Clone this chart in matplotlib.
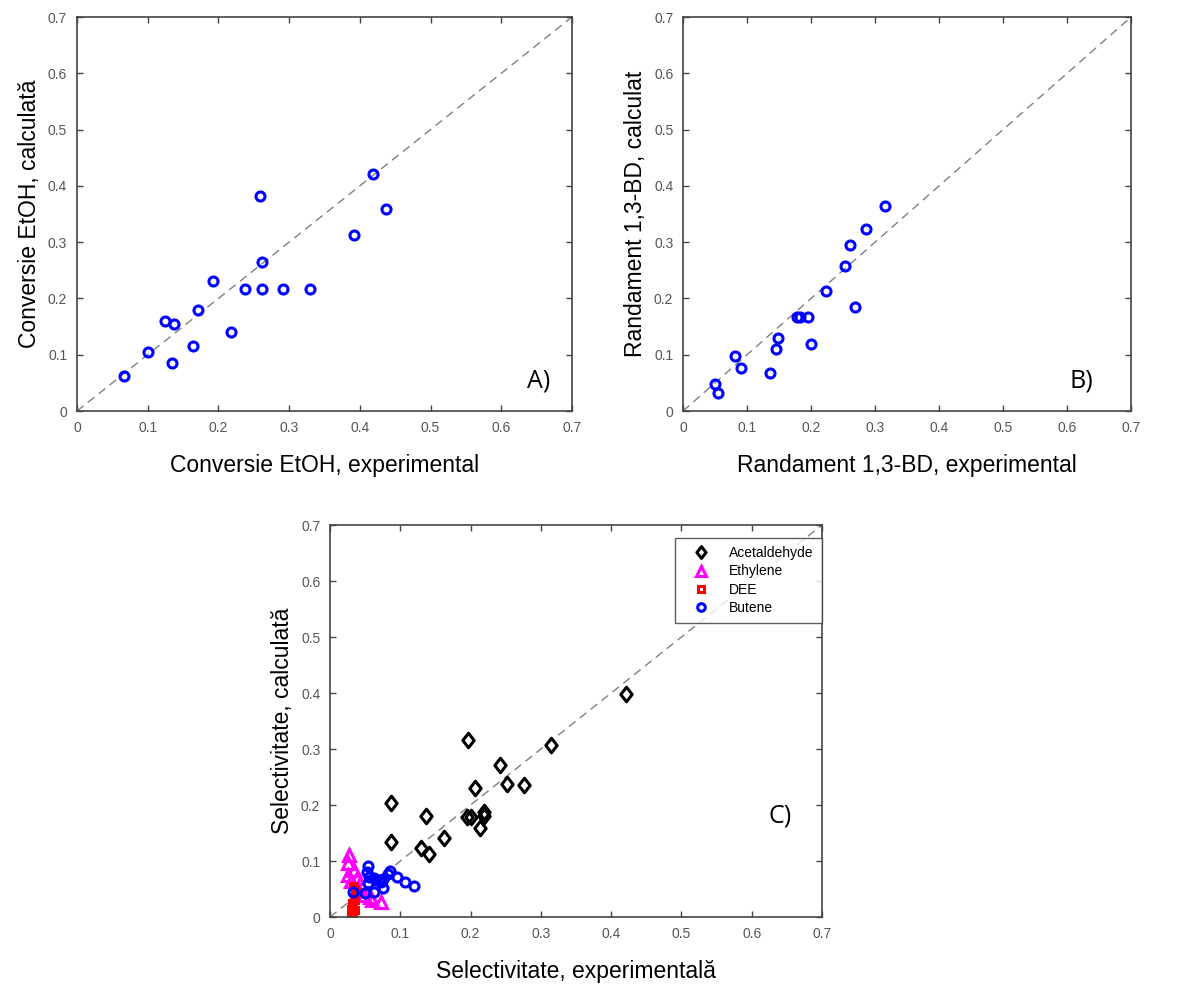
import matplotlib
matplotlib.use("Agg")
import matplotlib.pyplot as plt
from matplotlib.lines import Line2D
from matplotlib.path import Path

plt.rcParams['font.family'] = ['Liberation Sans', 'DejaVu Sans']

# A) ethanol conversion
conv_exp = [0.066, 0.100, 0.124, 0.137, 0.135, 0.164, 0.171, 0.192, 0.218, 0.237,
            0.259, 0.262, 0.262, 0.291, 0.330, 0.392, 0.419, 0.437]
conv_calc = [0.063, 0.105, 0.160, 0.154, 0.086, 0.115, 0.179, 0.231, 0.140, 0.216,
             0.382, 0.264, 0.216, 0.216, 0.216, 0.312, 0.422, 0.359]

# B) 1,3-BD yield
yield_exp = [0.0495, 0.055, 0.082, 0.091, 0.136, 0.146, 0.149, 0.178, 0.183, 0.196,
             0.200, 0.224, 0.253, 0.261, 0.268, 0.286, 0.315]
yield_calc = [0.048, 0.032, 0.097, 0.076, 0.068, 0.111, 0.130, 0.167, 0.167, 0.167,
              0.119, 0.213, 0.257, 0.295, 0.185, 0.323, 0.364]

# C) selectivities
acet_exp = [0.197, 0.314, 0.242, 0.207, 0.252, 0.276, 0.087, 0.136, 0.195, 0.200,
            0.219, 0.219, 0.213, 0.087, 0.162, 0.130, 0.141, 0.421]
acet_calc = [0.317, 0.307, 0.271, 0.230, 0.238, 0.236, 0.204, 0.180, 0.179, 0.179,
             0.187, 0.180, 0.159, 0.134, 0.141, 0.123, 0.113, 0.399]

eth_exp = [0.027, 0.026, 0.034, 0.025, 0.038, 0.042, 0.040, 0.048, 0.057, 0.060, 0.072, 0.030]
eth_calc = [0.110, 0.097, 0.084, 0.075, 0.070, 0.060, 0.050, 0.040, 0.035, 0.030, 0.026, 0.065]

dee_exp = [0.030, 0.032, 0.030, 0.033, 0.031, 0.035, 0.034, 0.036, 0.038, 0.035, 0.033, 0.036, 0.032]
dee_calc = [0.005, 0.010, 0.015, 0.020, 0.025, 0.030, 0.035, 0.040, 0.045, 0.050, 0.002, 0.012, 0.055]

but_exp = [0.054, 0.052, 0.056, 0.065, 0.075, 0.083, 0.085, 0.096, 0.107, 0.119,
           0.033, 0.050, 0.062, 0.076, 0.069, 0.062, 0.054, 0.072]
but_calc = [0.092, 0.081, 0.072, 0.066, 0.068, 0.077, 0.083, 0.072, 0.063, 0.056,
            0.044, 0.043, 0.045, 0.051, 0.066, 0.069, 0.060, 0.062]

ticks = [0, 0.1, 0.2, 0.3, 0.4, 0.5, 0.6, 0.7]
tick_labels = ['0', '0.1', '0.2', '0.3', '0.4', '0.5', '0.6', '0.7']

# matlab-like diamond, a bit narrower than tall
diamond = Path([(0, 1), (0.78, 0), (0, -1), (-0.78, 0), (0, 1)],
               [Path.MOVETO, Path.LINETO, Path.LINETO, Path.LINETO, Path.CLOSEPOLY])

fig = plt.figure(figsize=(11.97, 9.85), dpi=100)
axA = fig.add_axes([0.0643, 0.5827, 0.4135, 0.400])
axB = fig.add_axes([0.5706, 0.5827, 0.3743, 0.400])
axC = fig.add_axes([0.2757, 0.0690, 0.4110, 0.398])


def style(ax, xlabel, ylabel, tag, tagpos):
    ax.plot([0, 0.7], [0, 0.7], ls=(0, (6, 4)), color='#808080', lw=1.0, zorder=1)
    ax.set_xlim(0, 0.7)
    ax.set_ylim(0, 0.7)
    ax.set_xticks(ticks)
    ax.set_yticks(ticks)
    ax.set_xticklabels(tick_labels)
    ax.set_yticklabels(tick_labels)
    ax.tick_params(direction='in', top=True, right=True, length=4, width=1,
                   labelsize=10, labelcolor='#555555', color='#444444', pad=7)
    for s in ax.spines.values():
        s.set_color('#444444')
        s.set_linewidth(1.2)
    ax.set_xlabel(xlabel, fontsize=16.5, labelpad=14)
    ax.set_ylabel(ylabel, fontsize=16.5, labelpad=5)
    ax.text(tagpos[0], tagpos[1], tag, fontsize=18, family=['Open Sans', 'DejaVu Sans'],
            ha='center', va='center')


mk = dict(ls='none', marker='o', mfc='none', mec='blue', ms=6.5, mew=2.2)

axA.plot(conv_exp, conv_calc, **mk)
style(axA, 'Conversie EtOH, experimental', 'Conversie EtOH, calculată', 'A)', (0.653, 0.054))

axB.plot(yield_exp, yield_calc, **mk)
style(axB, 'Randament 1,3-BD, experimental', 'Randament 1,3-BD, calculat', 'B)', (0.622, 0.054))

axC.plot(acet_exp, acet_calc, ls='none', marker=diamond, mfc='none', mec='black', ms=10.5, mew=2.2)
axC.plot(eth_exp, eth_calc, ls='none', marker='^', mfc='none', mec='magenta', ms=8, mew=2.2)
axC.plot(dee_exp, dee_calc, ls='none', marker='s', mfc='none', mec='red', ms=4.5, mew=2.2)
axC.plot(but_exp, but_calc, **mk)
style(axC, 'Selectivitate, experimentală', 'Selectivitate, calculată', 'C)', (0.64, 0.18))

handles = [
    Line2D([], [], ls='none', marker=diamond, mfc='none', mec='black', ms=8.5, mew=2.2),
    Line2D([], [], ls='none', marker='^', mfc='none', mec='magenta', ms=6.5, mew=2.2),
    Line2D([], [], ls='none', marker='s', mfc='none', mec='red', ms=4.5, mew=2.2),
    Line2D([], [], ls='none', marker='o', mfc='none', mec='blue', ms=5.5, mew=2.2),
]
leg = axC.legend(handles, ['Acetaldehyde', 'Ethylene', 'DEE', 'Butene'],
                 loc='upper right', bbox_to_anchor=(1.0, 0.967), fontsize=10,
                 frameon=True, fancybox=False, edgecolor='#333333',
                 borderaxespad=0, handletextpad=0.8, labelspacing=0.3,
                 borderpad=0.6, handlelength=2.5)
leg.get_frame().set_linewidth(1.0)

fig.savefig('out.png', dpi=100, facecolor='white')
